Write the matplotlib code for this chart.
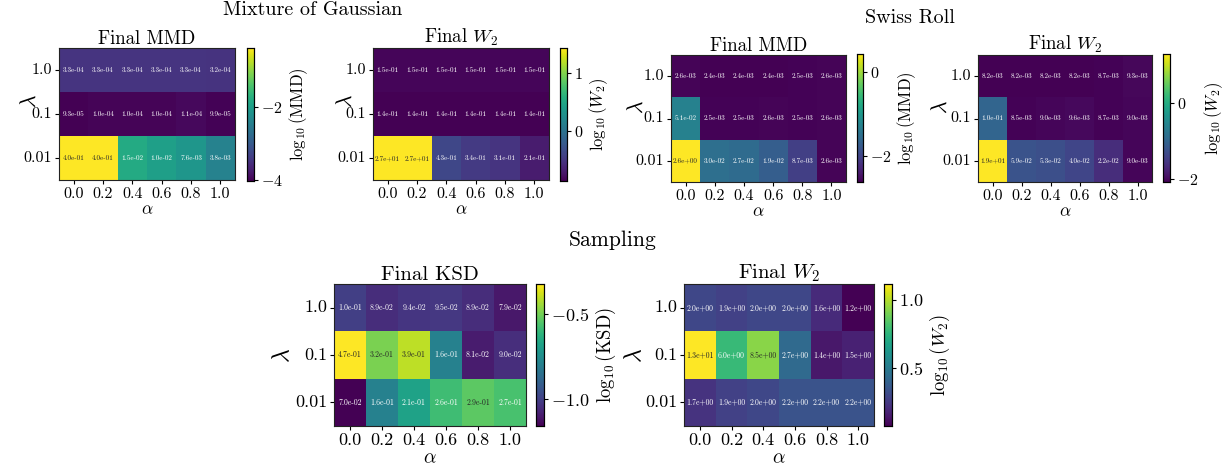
import numpy as np
import matplotlib
matplotlib.use("Agg")
import matplotlib.pyplot as plt
import seaborn as sns

plt.rcParams['font.family'] = 'serif'
plt.rcParams['font.serif'] = ['cmr10']
plt.rcParams['mathtext.fontset'] = 'cm'
plt.rcParams['axes.formatter.use_mathtext'] = True

alphas = ['0.0', '0.2', '0.4', '0.6', '0.8', '1.0']
lambdas = ['1.0', '0.1', '0.01']

# rows: lambda = 1.0, 0.1, 0.01 ; cols: alpha = 0.0 ... 1.0
mix_mmd = [[3.3e-4, 3.3e-4, 3.3e-4, 3.3e-4, 3.3e-4, 3.2e-4],
           [9.3e-5, 1.0e-4, 1.0e-4, 1.0e-4, 1.1e-4, 9.9e-5],
           [4.0e-1, 4.0e-1, 1.5e-2, 1.0e-2, 7.6e-3, 3.8e-3]]
mix_w2 = [[1.5e-1, 1.5e-1, 1.5e-1, 1.5e-1, 1.5e-1, 1.5e-1],
          [1.4e-1, 1.4e-1, 1.4e-1, 1.4e-1, 1.4e-1, 1.4e-1],
          [2.7e+1, 2.7e+1, 4.3e-1, 3.4e-1, 3.1e-1, 2.1e-1]]
swiss_mmd = [[2.6e-3, 2.4e-3, 2.4e-3, 2.4e-3, 2.5e-3, 2.6e-3],
             [5.1e-2, 2.5e-3, 2.5e-3, 2.6e-3, 2.5e-3, 2.6e-3],
             [2.6e+0, 3.0e-2, 2.7e-2, 1.9e-2, 8.7e-3, 2.6e-3]]
swiss_w2 = [[8.2e-3, 8.2e-3, 8.2e-3, 8.2e-3, 8.7e-3, 9.3e-3],
            [1.0e-1, 8.5e-3, 9.0e-3, 9.6e-3, 8.7e-3, 9.0e-3],
            [1.9e+1, 5.9e-2, 5.3e-2, 4.0e-2, 2.2e-2, 9.0e-3]]
samp_ksd = [[1.0e-1, 8.9e-2, 9.4e-2, 9.5e-2, 8.9e-2, 7.9e-2],
            [4.7e-1, 3.2e-1, 3.9e-1, 1.6e-1, 8.1e-2, 9.0e-2],
            [7.0e-2, 1.6e-1, 2.1e-1, 2.6e-1, 2.9e-1, 2.7e-1]]
samp_w2 = [[2.0e+0, 1.9e+0, 2.0e+0, 2.0e+0, 1.6e+0, 1.2e+0],
           [1.3e+1, 6.0e+0, 8.5e+0, 2.7e+0, 1.4e+0, 1.5e+0],
           [1.7e+0, 1.9e+0, 2.0e+0, 2.2e+0, 2.2e+0, 2.2e+0]]

W, H = 1225, 471
fig = plt.figure(figsize=(W / 100, H / 100), dpi=100)


def rect(x0, y0, x1, y1):
    return [x0 / W, 1 - y1 / H, (x1 - x0) / W, (y1 - y0) / H]


def heat(box, cbox, data, title, clabel, cticks, fs, afs, lam_xy):
    ax = fig.add_axes(rect(*box))
    cax = fig.add_axes(rect(*cbox))
    data = np.array(data)
    annot = np.array([[f"{v:.1e}" for v in row] for row in data])
    sns.heatmap(np.log10(data), ax=ax, cbar_ax=cax, cmap='viridis',
                annot=annot, fmt='', annot_kws={'fontsize': afs},
                xticklabels=alphas, yticklabels=lambdas)
    for s in ax.spines.values():
        s.set_visible(True)
        s.set_color('#222222')
        s.set_linewidth(0.8)
    ax.tick_params(labelsize=fs, length=3, width=0.8, pad=2)
    ax.set_yticklabels(lambdas, rotation=0)
    ax.set_xticklabels(alphas, rotation=0)
    ax.set_xlabel(r'$\alpha$', fontsize=fs + 1, labelpad=1)
    ax.set_ylabel(r'$\lambda$', fontsize=fs + 4)
    ax.yaxis.set_label_coords(*lam_xy)
    ax.set_title(title, fontsize=fs + 2, pad=3)
    cax.set_yticks(cticks)
    cax.tick_params(labelsize=fs, length=3, width=0.8, pad=2)
    cax.set_ylabel(clabel, fontsize=fs + 0.5, labelpad=3)
    for s in cax.spines.values():
        s.set_visible(True)
        s.set_linewidth(0.8)


heat((59, 48, 235, 180), (247, 48, 254, 181), mix_mmd, 'Final MMD',
     r'$\log_{10}(\mathrm{MMD})$', [-4, -2], 11.5, 5.2, (-0.11, 0.6))
heat((373, 48, 549, 180), (560, 48, 567, 181), mix_w2, r'Final $W_2$',
     r'$\log_{10}(W_2)$', [0, 1], 11.5, 5.2, (-0.10, 0.6))
heat((671, 55, 846, 182), (857, 54, 863, 182), swiss_mmd, 'Final MMD',
     r'$\log_{10}(\mathrm{MMD})$', [-2, 0], 11.5, 5.2, (-0.14, 0.59))
heat((978, 55, 1152, 182), (1163, 54, 1170, 182), swiss_w2, r'Final $W_2$',
     r'$\log_{10}(W_2)$', [-2, 0], 11.5, 5.2, (-0.155, 0.59))
heat((334, 284, 526, 426), (536, 284, 544, 426), samp_ksd, 'Final KSD',
     r'$\log_{10}(\mathrm{KSD})$', [-1.0, -0.5], 13, 5.6, (-0.21, 0.5))
heat((684, 284, 874, 426), (884, 284, 892, 426), samp_w2, r'Final $W_2$',
     r'$\log_{10}(W_2)$', [0.5, 1.0], 13, 5.6, (-0.20, 0.5))

fig.text(313 / W, 1 - 10 / H, 'Mixture of Gaussian', ha='center', va='center', fontsize=14.5)
fig.text(910 / W, 1 - 18 / H, 'Swiss Roll', ha='center', va='center', fontsize=14.5)
fig.text(613 / W, 1 - 240 / H, 'Sampling', ha='center', va='center', fontsize=15.5)

fig.savefig('out.png', dpi=100)
